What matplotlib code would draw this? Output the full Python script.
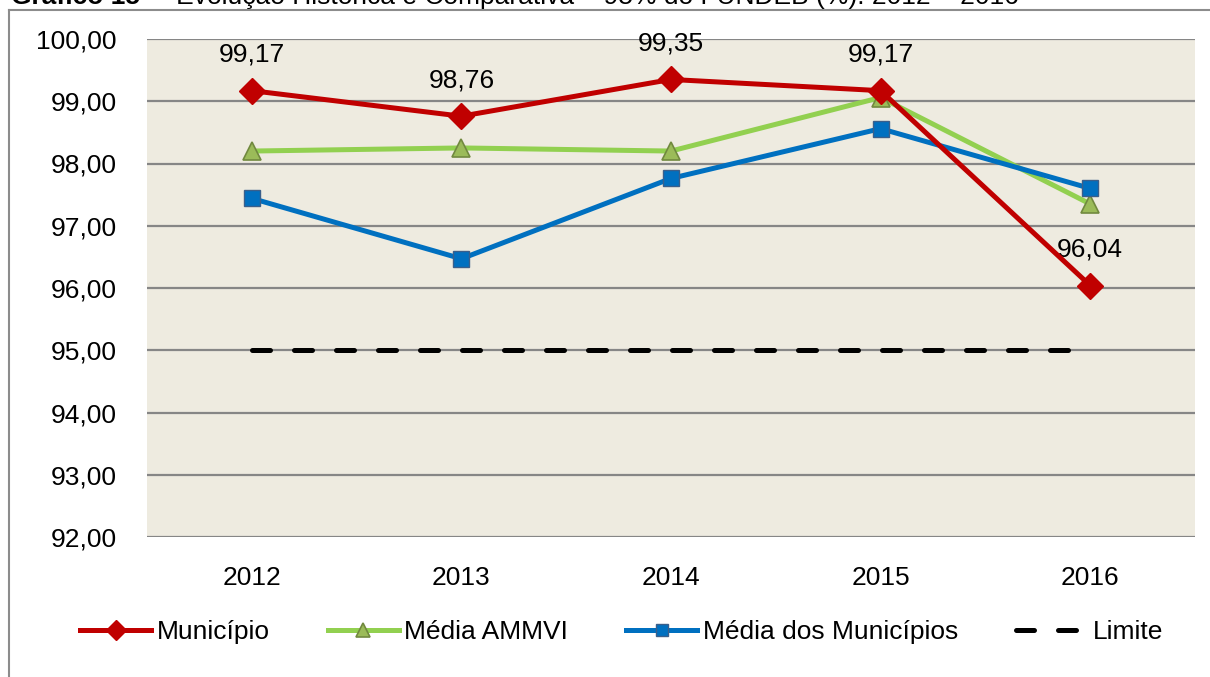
import matplotlib
matplotlib.use("Agg")
import matplotlib.pyplot as plt
from matplotlib.lines import Line2D
from matplotlib.ticker import FuncFormatter

plt.rcParams["font.family"] = ["Liberation Sans", "DejaVu Sans"]

anos = ["2012", "2013", "2014", "2015", "2016"]
municipio = [99.17, 98.76, 99.35, 99.17, 96.04]
media_ammvi = [98.20, 98.25, 98.20, 99.06, 97.35]
media_municipios = [97.44, 96.47, 97.76, 98.56, 97.60]
limite = [95.00, 95.00, 95.00, 95.00, 95.00]
yticks = [92, 93, 94, 95, 96, 97, 98, 99, 100]

W, H = 1210, 677
FS = 19
fig = plt.figure(figsize=(W / 100, H / 100), dpi=100)
ax = fig.add_axes([147 / W, 1 - 537 / H, (1195 - 147) / W, (537 - 39) / H])
ax.set_facecolor("#eeebe0")

x = list(range(len(anos)))
lw = 3.6

ax.set_ylim(92, 100)
ax.set_xlim(-0.5, len(anos) - 0.5)
ax.set_yticks(yticks)
ax.yaxis.set_major_formatter(FuncFormatter(lambda v, p: f"{v:.2f}".replace(".", ",")))
ax.set_xticks(x)
ax.set_xticklabels(anos)
ax.grid(axis="y", color="#868686", linewidth=1.6)
ax.set_axisbelow(True)
for s in ax.spines.values():
    s.set_visible(False)
ax.tick_params(length=0, labelsize=FS, colors="black")
ax.tick_params(axis="y", pad=22)
ax.tick_params(axis="x", pad=21)

lim_line, = ax.plot(x, limite, color="black", linewidth=lw, dashes=(3.6, 4.8),
                    dash_capstyle="round", label="Limite", zorder=3)
l_ammvi, = ax.plot(x, media_ammvi, color="#92d050", linewidth=lw, marker="^",
                   markersize=13, markerfacecolor="#9bbb59", markeredgecolor="#71893f",
                   markeredgewidth=1.2, label="Média AMMVI", zorder=4)
l_muns, = ax.plot(x, media_municipios, color="#0070c0", linewidth=lw, marker="s",
                  markersize=12, markerfacecolor="#0070c0", markeredgecolor="#3a5f8b",
                  markeredgewidth=1.0, label="Média dos Municípios", zorder=5)
l_mun, = ax.plot(x, municipio, color="#c00000", linewidth=lw, marker="D",
                 markersize=13, markerfacecolor="#c00000", markeredgecolor="#c00000",
                 label="Município", zorder=6)

for xi, v in zip(x, municipio):
    ax.annotate(f"{v:.2f}".replace(".", ","), (xi, v), xytext=(0, 26),
                textcoords="offset points", ha="center", va="center", fontsize=FS)

fig.legend(handles=[l_mun, l_ammvi, l_muns, lim_line], loc="center left",
           bbox_to_anchor=(80 / W, 1 - 632 / H), ncol=4, frameon=False,
           fontsize=FS, handlelength=2.7, handletextpad=0.2, columnspacing=2.2,
           borderpad=0, borderaxespad=0, markerscale=0.75)

# moldura externa
fig.add_artist(Line2D([9 / W, 9 / W], [0, 1 - 10 / H], color="#8c8c8c", linewidth=1.5))
fig.add_artist(Line2D([9 / W, 1], [1 - 10 / H, 1 - 10 / H], color="#8c8c8c", linewidth=1.5))

# titulo (cortado na borda superior)
t1 = fig.text(11 / W, 1 - 4 / H, "Gráfico 15", fontsize=FS, fontweight="bold",
              va="baseline", ha="left")
r = fig.canvas.get_renderer()
x_end = t1.get_window_extent(r).x1 / W
fig.text(x_end + 14 / W, 1 - 4 / H,
         "– Evolução Histórica e Comparativa – 95% do FUNDEB (%): 2012 – 2016",
         fontsize=FS, va="baseline", ha="left")

fig.savefig("out.png", dpi=100)
